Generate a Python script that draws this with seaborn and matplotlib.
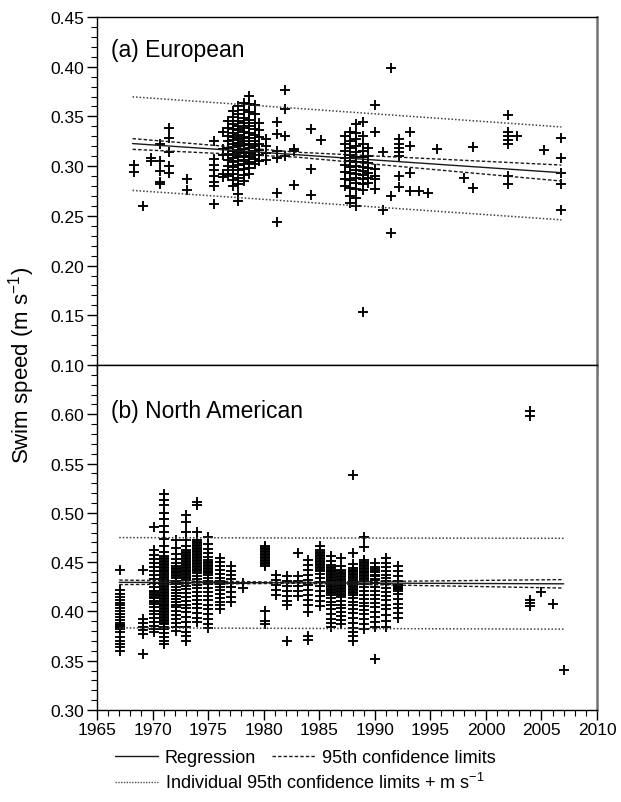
import numpy as np
import pandas as pd
import matplotlib
matplotlib.use("Agg")
import matplotlib.pyplot as plt
import seaborn as sns
from matplotlib.ticker import MultipleLocator, FormatStrFormatter
from matplotlib.lines import Line2D

sns.set_theme(style="ticks", rc={'text.color': 'black', 'axes.labelcolor': 'black',
                                 'xtick.color': 'black', 'ytick.color': 'black'})
plt.rcParams['font.family'] = ['Liberation Sans', 'DejaVu Sans']
plt.rcParams['mathtext.fontset'] = 'custom'
plt.rcParams['mathtext.rm'] = 'Liberation Sans'
plt.rcParams['mathtext.it'] = 'Liberation Sans:italic'
plt.rcParams['mathtext.default'] = 'regular'

# (a) European - swim speeds, grouped by year
eu_years = [1968.3, 1969.1, 1969.9, 1970.7, 1971.5, 1973.1, 1975.5, 1976.3,
            1976.8, 1977.2, 1977.7, 1978.2, 1978.7, 1979.2, 1979.6, 1980.2,
            1981.2, 1981.9, 1982.7, 1984.3, 1985.2, 1987.3, 1987.8, 1988.3,
            1988.9, 1989.4, 1990.0, 1990.7, 1991.5, 1992.2, 1993.2, 1994.0,
            1994.8, 1995.6, 1998.0, 1998.8, 2002.0, 2002.8, 2005.2, 2006.8]
eu_speeds = [
    [0.301, 0.294],
    [0.260],
    [0.308, 0.305],
    [0.322, 0.305, 0.295, 0.284, 0.282],
    [0.338, 0.328, 0.314, 0.300, 0.293],
    [0.287, 0.276],
    [0.325, 0.307, 0.301, 0.296, 0.290, 0.284, 0.280, 0.262],
    [0.334, 0.317, 0.311, 0.292, 0.289],
    [0.345, 0.338, 0.330, 0.325, 0.318, 0.312, 0.306, 0.300, 0.296, 0.290],
    [0.355, 0.349, 0.342, 0.337, 0.333, 0.329, 0.326, 0.322, 0.319, 0.315,
     0.311, 0.308, 0.304, 0.299, 0.292, 0.286, 0.280],
    [0.360, 0.352, 0.345, 0.340, 0.336, 0.331, 0.327, 0.323, 0.320, 0.316,
     0.313, 0.309, 0.305, 0.301, 0.296, 0.288, 0.282, 0.272, 0.265],
    [0.364, 0.356, 0.348, 0.343, 0.338, 0.334, 0.329, 0.325, 0.321, 0.317,
     0.314, 0.310, 0.306, 0.302, 0.297, 0.291, 0.285],
    [0.371, 0.362, 0.354, 0.346, 0.340, 0.333, 0.328, 0.322, 0.318, 0.313,
     0.309, 0.304, 0.298, 0.292],
    [0.361, 0.352, 0.343, 0.337, 0.331, 0.325, 0.320, 0.315, 0.311, 0.307, 0.302],
    [0.343, 0.336, 0.329, 0.322, 0.316, 0.311, 0.305],
    [0.327, 0.320, 0.313, 0.306],
    [0.344, 0.332, 0.315, 0.308, 0.273, 0.244],
    [0.377, 0.357, 0.330, 0.310],
    [0.317, 0.315, 0.281],
    [0.337, 0.297, 0.271],
    [0.326],
    [0.330, 0.322, 0.315, 0.308, 0.301, 0.294, 0.287, 0.280],
    [0.334, 0.325, 0.318, 0.311, 0.305, 0.299, 0.293, 0.286, 0.278, 0.270, 0.263],
    [0.342, 0.333, 0.327, 0.320, 0.314, 0.309, 0.304, 0.300, 0.296, 0.292,
     0.288, 0.283, 0.277, 0.268, 0.260],
    [0.344, 0.330, 0.322, 0.315, 0.309, 0.304, 0.299, 0.295, 0.291, 0.287,
     0.282, 0.276, 0.153],
    [0.318, 0.310, 0.303, 0.298, 0.293, 0.288, 0.283],
    [0.361, 0.334, 0.297, 0.290, 0.287, 0.277],
    [0.314, 0.256],
    [0.399, 0.270, 0.233],
    [0.327, 0.322, 0.318, 0.314, 0.310, 0.290, 0.279],
    [0.334, 0.320, 0.293, 0.275],
    [0.275],
    [0.273],
    [0.317],
    [0.288],
    [0.319, 0.278],
    [0.351, 0.334, 0.330, 0.326, 0.322, 0.290, 0.282],
    [0.330],
    [0.316],
    [0.328, 0.308, 0.293, 0.282, 0.256],
]

# (b) North American
na_years = [1967.1, 1969.1, 1970.1, 1971.0, 1972.1, 1973.0, 1974.0, 1975.0,
            1976.1, 1977.1, 1978.1, 1980.1, 1981.1, 1982.1, 1983.1, 1984.0,
            1985.1, 1986.1, 1987.0, 1988.0, 1989.0, 1990.0, 1991.0, 1992.1,
            2004.0, 2005.0, 2006.0, 2007.0]
na_speeds = [
    [0.442, 0.422, 0.418, 0.415, 0.412, 0.409, 0.406, 0.403, 0.400, 0.397,
     0.394, 0.391, 0.388, 0.386, 0.384, 0.382, 0.379, 0.374, 0.370, 0.367,
     0.364, 0.360, 0.3865, 0.3845, 0.3855],
    [0.442, 0.392, 0.388, 0.384, 0.381, 0.377, 0.357],
    [0.486, 0.462, 0.457, 0.453, 0.449, 0.445, 0.441, 0.437, 0.433, 0.429,
     0.425, 0.421, 0.418, 0.415, 0.411, 0.408, 0.404, 0.400, 0.397, 0.393,
     0.389, 0.385, 0.382, 0.379, 0.4195, 0.4165, 0.4135, 0.4095],
    [0.519, 0.513, 0.508, 0.500, 0.494, 0.487, 0.481, 0.473, 0.466, 0.460,
     0.456, 0.453, 0.450, 0.447, 0.444, 0.441, 0.438, 0.435, 0.432, 0.429,
     0.426, 0.423, 0.420, 0.417, 0.414, 0.411, 0.408, 0.405, 0.402, 0.399,
     0.396, 0.393, 0.390, 0.387, 0.384, 0.382, 0.378, 0.374, 0.370, 0.367,
     0.4545, 0.4515, 0.4485, 0.4455, 0.4425, 0.4395, 0.4365, 0.4335, 0.4305,
     0.4275, 0.4245, 0.4215, 0.4185, 0.4155, 0.4125, 0.4095, 0.4065, 0.4035,
     0.4005, 0.3975, 0.3945, 0.3915, 0.3885],
    [0.472, 0.464, 0.458, 0.453, 0.449, 0.446, 0.443, 0.440, 0.437, 0.434,
     0.431, 0.428, 0.425, 0.422, 0.419, 0.416, 0.413, 0.410, 0.407, 0.404,
     0.400, 0.396, 0.392, 0.388, 0.384, 0.380, 0.4445, 0.4415, 0.4385,
     0.4355, 0.4185, 0.4155, 0.4125, 0.4095],
    [0.498, 0.491, 0.481, 0.472, 0.466, 0.462, 0.459, 0.456, 0.453, 0.450,
     0.447, 0.444, 0.441, 0.438, 0.435, 0.432, 0.429, 0.426, 0.423, 0.419,
     0.415, 0.411, 0.407, 0.403, 0.399, 0.394, 0.389, 0.384, 0.379, 0.375,
     0.370, 0.4605, 0.4575, 0.4545, 0.4515, 0.4485, 0.4455, 0.4425, 0.4395,
     0.4365, 0.4335],
    [0.511, 0.508, 0.481, 0.472, 0.469, 0.466, 0.463, 0.460, 0.457, 0.454,
     0.451, 0.448, 0.445, 0.442, 0.439, 0.436, 0.433, 0.430, 0.427, 0.424,
     0.420, 0.416, 0.412, 0.408, 0.403, 0.398, 0.393, 0.389, 0.4705, 0.4675,
     0.4645, 0.4615, 0.4585, 0.4555, 0.4525, 0.4495, 0.4465, 0.4435, 0.4405],
    [0.476, 0.468, 0.463, 0.459, 0.455, 0.452, 0.449, 0.446, 0.443, 0.440,
     0.437, 0.434, 0.431, 0.428, 0.424, 0.420, 0.416, 0.412, 0.407, 0.402,
     0.397, 0.392, 0.387, 0.383, 0.4505, 0.4475, 0.4445, 0.4415, 0.4385],
    [0.454, 0.450, 0.446, 0.442, 0.438, 0.434, 0.431, 0.428, 0.425, 0.422,
     0.418, 0.414, 0.410, 0.406, 0.402],
    [0.446, 0.441, 0.437, 0.433, 0.429, 0.425, 0.420, 0.415, 0.410],
    [0.429, 0.424],
    [0.466, 0.463, 0.460, 0.457, 0.454, 0.451, 0.448, 0.446, 0.400, 0.390,
     0.387, 0.4645, 0.4615, 0.4585, 0.4555, 0.4525, 0.4495],
    [0.437, 0.432, 0.427, 0.422, 0.417],
    [0.436, 0.431, 0.426, 0.421, 0.416, 0.411, 0.407, 0.370],
    [0.459, 0.436, 0.431, 0.426, 0.421, 0.416],
    [0.452, 0.447, 0.442, 0.437, 0.432, 0.427, 0.422, 0.417, 0.412, 0.406,
     0.399, 0.375, 0.371],
    [0.466, 0.462, 0.459, 0.456, 0.453, 0.450, 0.447, 0.444, 0.441, 0.438,
     0.434, 0.430, 0.426, 0.421, 0.416, 0.411, 0.405, 0.4605, 0.4575, 0.4545,
     0.4515, 0.4485, 0.4455, 0.4425],
    [0.456, 0.451, 0.447, 0.444, 0.441, 0.438, 0.435, 0.432, 0.429, 0.426,
     0.423, 0.420, 0.417, 0.414, 0.410, 0.406, 0.402, 0.397, 0.392, 0.388,
     0.384, 0.4455, 0.4425, 0.4395, 0.4365, 0.4335, 0.4305, 0.4275, 0.4245,
     0.4215, 0.4185],
    [0.454, 0.446, 0.442, 0.439, 0.436, 0.433, 0.430, 0.427, 0.424, 0.421,
     0.418, 0.415, 0.411, 0.407, 0.403, 0.399, 0.395, 0.391, 0.387, 0.4405,
     0.4375, 0.4345, 0.4315, 0.4285, 0.4255, 0.4225, 0.4195, 0.4165],
    [0.538, 0.459, 0.448, 0.444, 0.441, 0.438, 0.435, 0.432, 0.429, 0.426,
     0.423, 0.420, 0.417, 0.414, 0.410, 0.406, 0.402, 0.398, 0.393, 0.388,
     0.383, 0.379, 0.375, 0.370, 0.4425, 0.4395, 0.4365, 0.4335, 0.4305,
     0.4275, 0.4245, 0.4215, 0.4185],
    [0.476, 0.465, 0.452, 0.449, 0.446, 0.443, 0.440, 0.437, 0.434, 0.431,
     0.428, 0.425, 0.421, 0.417, 0.413, 0.409, 0.405, 0.401, 0.397, 0.392,
     0.387, 0.382, 0.4505, 0.4475, 0.4445, 0.4415, 0.4385, 0.4355, 0.4325],
    [0.449, 0.445, 0.441, 0.437, 0.433, 0.429, 0.425, 0.421, 0.417, 0.413,
     0.409, 0.404, 0.399, 0.394, 0.389, 0.384, 0.352, 0.4435, 0.4395, 0.4355,
     0.4315],
    [0.454, 0.449, 0.445, 0.441, 0.437, 0.434, 0.431, 0.428, 0.424, 0.420,
     0.416, 0.412, 0.407, 0.402, 0.396, 0.390, 0.384],
    [0.446, 0.441, 0.436, 0.431, 0.427, 0.425, 0.423, 0.421, 0.418, 0.413,
     0.408, 0.403, 0.398, 0.393, 0.4265, 0.4245, 0.4225],
    [0.603, 0.598, 0.412, 0.409, 0.405],
    [0.420],
    [0.408],
    [0.341],
]

# fitted lines (regression, 95% CI of mean, individual 95% limits)
eu_fit_year = [1968.2, 1983.0, 2006.8]
eu_fit = [0.3227, 0.3115, 0.2934]
eu_ci_upper = [0.3277, 0.3140, 0.3011]
eu_ci_lower = [0.3169, 0.3090, 0.2850]
eu_pi_upper = [0.3697, 0.3581, 0.3394]
eu_pi_lower = [0.2756, 0.2643, 0.2460]

na_fit_year = [1967.0, 1983.0, 2007.0]
na_fit = [0.4295, 0.4290, 0.4280]
na_ci_upper = [0.4318, 0.4295, 0.4323]
na_ci_lower = [0.4272, 0.4285, 0.4237]
na_pi_upper = [0.4749, 0.4745, 0.4742]
na_pi_lower = [0.3833, 0.3828, 0.3820]


def to_frame(years, speeds):
    rows = [(y, s) for y, ss in zip(years, speeds) for s in ss]
    return pd.DataFrame(rows, columns=['year', 'speed'])


eu = to_frame(eu_years, eu_speeds)
na = to_frame(na_years, na_speeds)

fig = plt.figure(figsize=(6.21, 8.03), dpi=100)
ax1 = fig.add_axes([0.1562, 0.5442, 0.8052, 0.4334])
ax2 = fig.add_axes([0.1562, 0.1146, 0.8052, 0.4296])

reg_style = dict(color='0.1', lw=1.0)
ci_style = dict(color='0.1', lw=1.0, linestyle=(0, (2.5, 1.5)))
pi_style = dict(color='0.25', lw=1.1, linestyle=(0, (1, 1.3)))

for ax, df, fy, fit, cu, cl, pu, pl in [
        (ax1, eu, eu_fit_year, eu_fit, eu_ci_upper, eu_ci_lower, eu_pi_upper, eu_pi_lower),
        (ax2, na, na_fit_year, na_fit, na_ci_upper, na_ci_lower, na_pi_upper, na_pi_lower)]:
    sns.scatterplot(data=df, x='year', y='speed', marker='+', color='black',
                    s=62, linewidth=1.35, ax=ax, legend=False, zorder=3)
    sns.lineplot(x=fy, y=fit, ax=ax, zorder=4, **reg_style)
    sns.lineplot(x=fy, y=cu, ax=ax, zorder=4, **ci_style)
    sns.lineplot(x=fy, y=cl, ax=ax, zorder=4, **ci_style)
    sns.lineplot(x=fy, y=pu, ax=ax, zorder=4, **pi_style)
    sns.lineplot(x=fy, y=pl, ax=ax, zorder=4, **pi_style)

    ax.set_xlim(1965, 2010)
    ax.xaxis.set_major_locator(MultipleLocator(5))
    ax.xaxis.set_minor_locator(MultipleLocator(1))
    ax.yaxis.set_minor_locator(MultipleLocator(0.01))
    ax.yaxis.set_major_formatter(FormatStrFormatter('%.2f'))
    ax.xaxis.set_major_formatter(FormatStrFormatter('%d'))
    ax.tick_params(which='major', direction='out', length=7, width=1,
                   labelsize=12.5, color='black', labelcolor='black', pad=2)
    ax.tick_params(which='minor', direction='out', length=4, width=0.8, color='black')
    ax.set_xlabel('')
    ax.set_ylabel('')
    for side in ['left', 'bottom', 'top']:
        ax.spines[side].set_color('black')
        ax.spines[side].set_linewidth(1.0)
    ax.spines['right'].set_color('0.45')
    ax.spines['right'].set_linewidth(1.8)
    ax.spines['right'].set_visible(True)
    ax.spines['top'].set_visible(True)

ax1.set_ylim(0.10, 0.45)
ax1.set_yticks([0.10, 0.15, 0.20, 0.25, 0.30, 0.35, 0.40, 0.45])
ax1.tick_params(axis='x', labelbottom=False)
ax2.set_ylim(0.30, 0.65)
ax2.set_yticks([0.30, 0.35, 0.40, 0.45, 0.50, 0.55, 0.60])

ax1.text(0.028, 0.908, '(a) European', transform=ax1.transAxes,
         fontsize=16.5, va='center', ha='left', color='black')
ax2.text(0.028, 0.867, '(b) North American', transform=ax2.transAxes,
         fontsize=16.5, va='center', ha='left', color='black')

fig.text(0.034, 0.545, r'Swim speed (m s$^{-1}$)', rotation=90,
         va='center', ha='center', fontsize=16, color='black')

h_reg = Line2D([], [], **reg_style)
h_ci = Line2D([], [], **ci_style)
h_pi = Line2D([], [], color='0.3', lw=1.0, linestyle=(0, (1, 1)))
fig.legend([h_reg, h_ci], ['Regression', '95th confidence limits'],
           loc='center left', bbox_to_anchor=(0.185, 0.0548), ncol=2,
           frameon=False, fontsize=13, handlelength=2.4, handletextpad=0.35,
           columnspacing=0.9, borderpad=0, borderaxespad=0, labelcolor='black')
fig.legend([h_pi], [r'Individual 95th confidence limits + m s$^{-1}$'],
           loc='center left', bbox_to_anchor=(0.185, 0.0249),
           frameon=False, fontsize=13, handlelength=2.4, handletextpad=0.35,
           borderpad=0, borderaxespad=0, labelcolor='black')

fig.savefig('out.png', dpi=100)
